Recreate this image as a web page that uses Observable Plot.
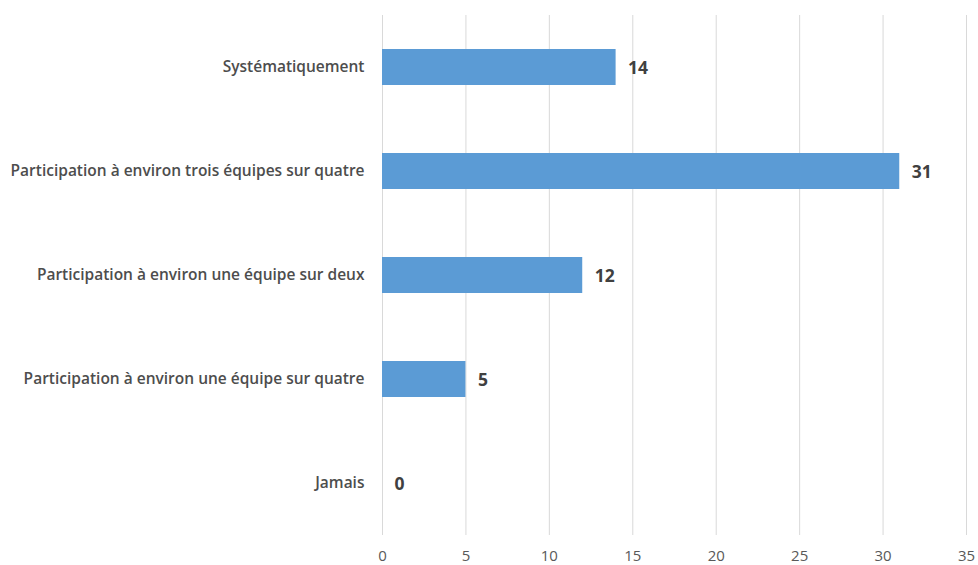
<!DOCTYPE html>
<html>
<head>
<meta charset="utf-8">
<script src="https://cdn.jsdelivr.net/npm/d3@7"></script>
<script src="https://cdn.jsdelivr.net/npm/@observablehq/plot@0.6"></script>
<style>
  html, body { margin: 0; padding: 0; background: #fff; }
  #chart svg { display: block; }
</style>
</head>
<body>
<div id="chart"></div>
<script>
const categories = [
  "Systématiquement",
  "Participation à environ trois équipes sur quatre",
  "Participation à environ une équipe sur deux",
  "Participation à environ une équipe sur quatre",
  "Jamais"
];
const values = [14, 31, 12, 5, 0];
const xTicks = [0, 5, 10, 15, 20, 25, 30, 35];

const data = categories.map((c, i) => ({category: c, value: values[i]}));

const chart = Plot.plot({
  width: 978,
  height: 565,
  marginLeft: 382,
  marginRight: 12,
  marginTop: 15,
  marginBottom: 30,
  style: {fontFamily: "'Open Sans', sans-serif", background: "#fff"},
  x: {domain: [0, 35], ticks: xTicks, label: null},
  y: {domain: categories, paddingInner: 0.654, paddingOuter: 0.327, label: null},
  marks: [
    Plot.gridX(xTicks, {stroke: "#d9d9d9", strokeOpacity: 1, strokeWidth: 1}),
    Plot.barX(data, {x: "value", y: "category", fill: "#5b9bd5"}),
    Plot.text(data, {x: "value", y: "category", text: d => String(d.value), dx: 12, dy: 1, textAnchor: "start",
      fill: "#404040", fontSize: 17.5, fontWeight: "bold"}),
    Plot.axisX(xTicks, {tickSize: 0, tickPadding: 15, fill: "#595959", fontSize: 15, label: null}),
    Plot.axisY({tickSize: 0, tickPadding: 18, fill: "#4d4d4d", fontSize: 15.5, fontWeight: 600, label: null})
  ]
});
document.getElementById("chart").appendChild(chart);
</script>
</body>
</html>
